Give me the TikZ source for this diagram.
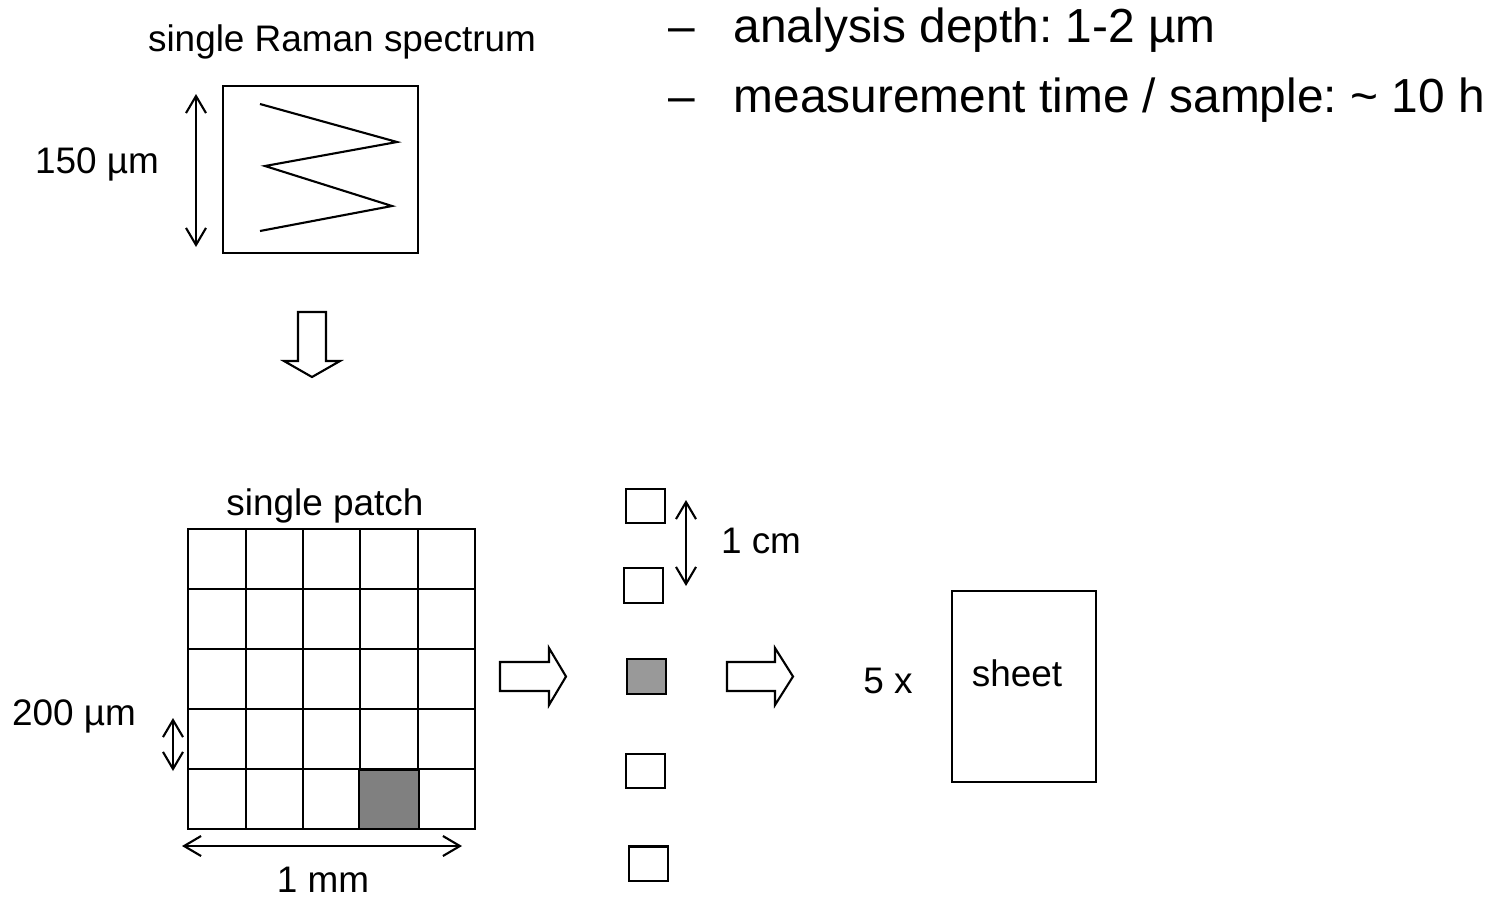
\documentclass[tikz,border=0pt]{standalone}
\usepackage{fontspec}
\setmainfont{Liberation Sans}
\usetikzlibrary{arrows.meta}
\frenchspacing
\tikzset{
	lbl/.style={inner sep=0pt, font=\fontsize{10.5}{12}\selectfont},
	listtxt/.style={inner sep=0pt, anchor=base west, font=\fontsize{13.6}{16}\selectfont},
	cell/.style={draw, line width=0.6pt, minimum width=0.39cm, minimum height=0.345cm, inner sep=0pt},
	dimarrow/.style={line width=0.6pt, {Straight Barb[length=1.7mm,width=2mm]}-{Straight Barb[length=1.7mm,width=2mm]}},
	blockarrow/.style={draw, line width=0.6pt, fill=white, line join=miter}
}
\begin{document}
\begin{tikzpicture}[x=0.01cm, y=-0.01cm]
			%%%%% START %%%%%
			\useasboundingbox (0, 0) rectangle (1492, 897);
			
			% list at top right
			\node[listtxt] (dashA) at (668, 42) {–};
			\node[listtxt] (depth) at (733, 42) {analysis depth: 1-2 µm};
			\node[listtxt] (dashB) at (668, 112) {–};
			\node[listtxt] (mtime) at (733, 112) {measurement time / sample: \textasciitilde{} 10 h};
			
			% single spectrum
			\node[lbl] (spectrum) at (342, 42) {single Raman spectrum};
			\draw[line width=0.6pt] (223, 86) rectangle (418, 253);
			\draw[line width=0.6pt] (260, 104) -- (397, 142) -- (265, 166) -- (392, 206) -- (260, 231);
			\coordinate (spectop) at (196, 94);
			\coordinate (specbot) at (196, 247);
			\draw[dimarrow] (spectop) -- (specbot);
			\node[lbl] (specsize) at (97, 164) {150 µm};
			
			% down arrow
			\draw[blockarrow] (298, 312) -- (326, 312) -- (326, 361) -- (340, 361) -- (312, 377) -- (284, 361) -- (298, 361) -- cycle;
			
			% patch grid
			\node[lbl] (patch) at (325, 506) {single patch};
			\foreach \i in {0,...,4} {
				\foreach \j in {0,...,4} {
					\draw[line width=0.6pt] ({188.3+57.34*\i}, {529.3+60*\j}) rectangle ({188.3+57.34*(\i+1)}, {529.3+60*(\j+1)});
				}
			}
			\draw[line width=0.6pt, fill=black!50] (359, 770) rectangle (419, 829.3);
			\coordinate (celltop) at (173, 718);
			\coordinate (cellbot) at (173, 771);
			\draw[dimarrow] (celltop) -- (cellbot);
			\node[lbl] (cellsize) at (74, 716) {200 µm};
			\coordinate (patchL) at (182, 846);
			\coordinate (patchR) at (462, 846);
			\draw[dimarrow] (patchL) -- (patchR);
			\node[lbl] (patchsize) at (323, 880) {1 mm};
			
			% right arrows
			\draw[blockarrow] (500, 662) -- (549, 662) -- (549, 648) -- (566, 676.5) -- (549, 705) -- (549, 691) -- (500, 691) -- cycle;
			\draw[blockarrow] (727, 662) -- (775, 662) -- (775, 648) -- (793, 676.5) -- (775, 705) -- (775, 691) -- (727, 691) -- cycle;
			
			% column of patches
			\node[cell] (p1) at (645.5, 506) {};
			\node[cell] (p2) at (643.5, 585.5) {};
			\node[cell, fill=black!40] (p3) at (646.5, 676.5) {};
			\node[cell] (p4) at (645.5, 771) {};
			\node[cell] (p5) at (648.3, 863.7) {};
			\coordinate (cmtop) at (686, 500);
			\coordinate (cmbot) at (686, 586);
			\draw[dimarrow] (cmtop) -- (cmbot);
			\node[lbl] (cmsize) at (761, 541) {1 cm};
			
			% sheet
			\node[lbl] (times) at (888, 681) {5 x};
			\draw[line width=0.6pt] (952, 591) rectangle (1096, 782);
			\node[lbl] (sheet) at (1017, 673) {sheet};
			
			%%%%% END %%%%%
		\end{tikzpicture}
\end{document}
